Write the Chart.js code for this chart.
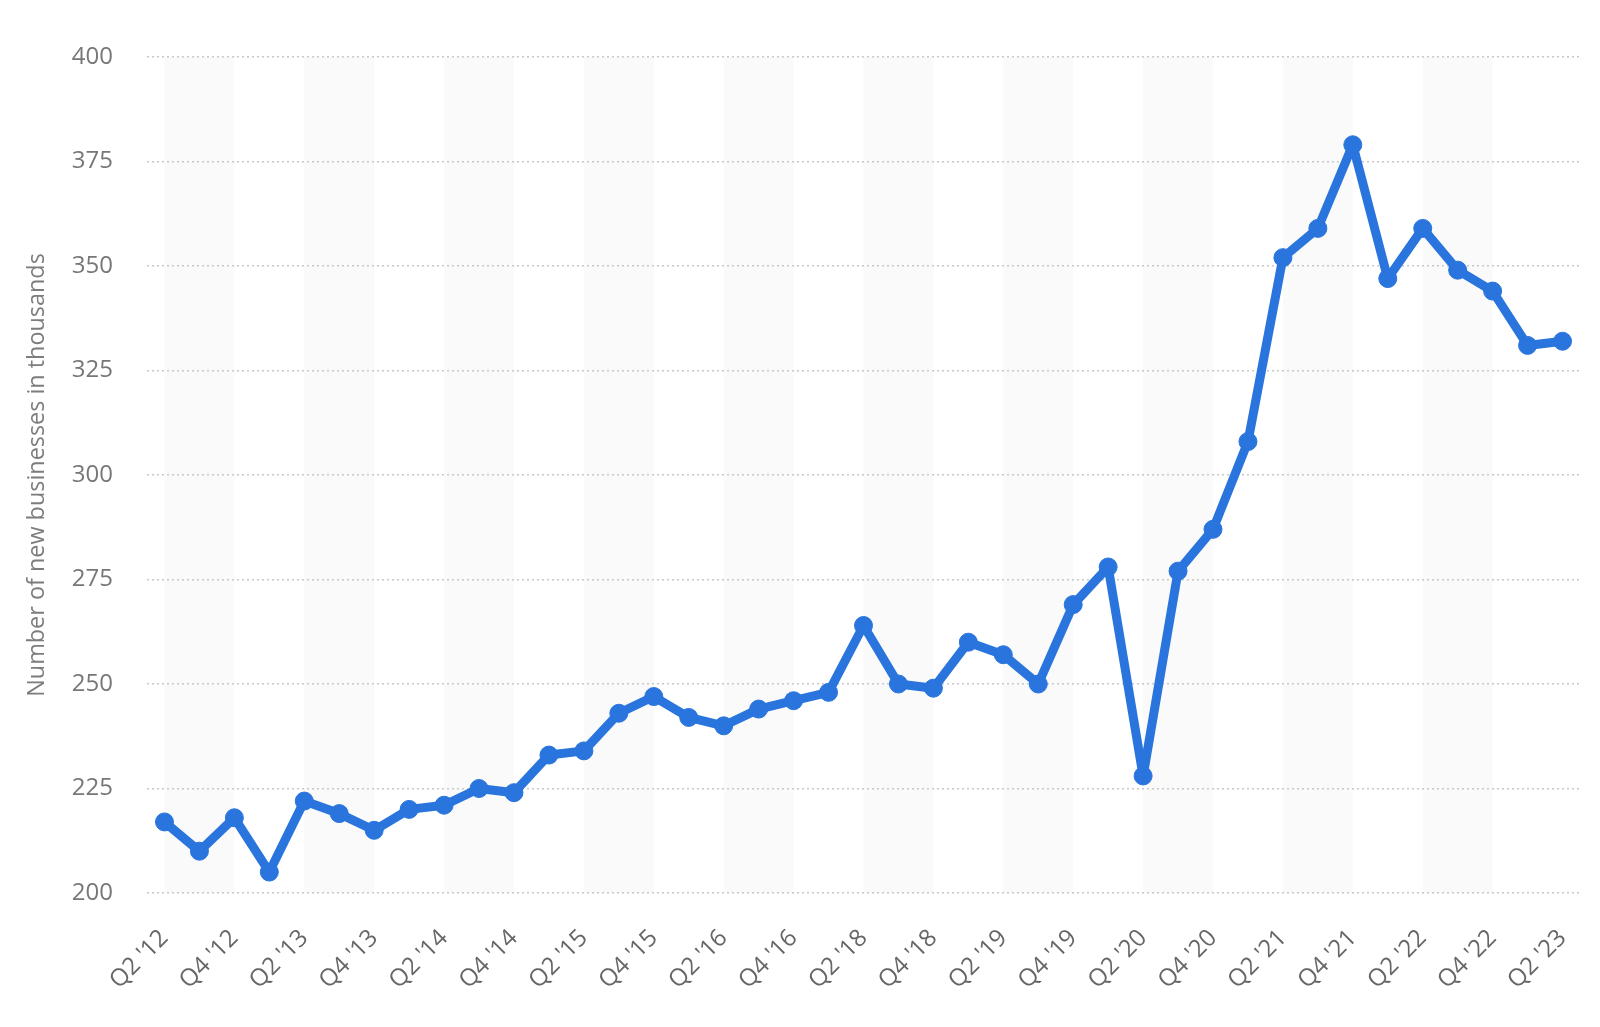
<!DOCTYPE html>
<html>
<head>
<meta charset="utf-8">
<script src="https://cdn.jsdelivr.net/npm/chart.js@4"></script>
<style>
  html, body { margin: 0; padding: 0; background: #ffffff; }
  #wrap { width: 1600px; height: 1027px; position: relative; }
</style>
</head>
<body>
<div id="wrap"><canvas id="c" width="1600" height="1027"></canvas></div>
<script>
const categories = [
  "Q2 '12", "Q3 '12", "Q4 '12", "Q1 '13", "Q2 '13", "Q3 '13", "Q4 '13", "Q1 '14",
  "Q2 '14", "Q3 '14", "Q4 '14", "Q1 '15", "Q2 '15", "Q3 '15", "Q4 '15", "Q1 '16",
  "Q2 '16", "Q3 '16", "Q4 '16", "Q1 '18", "Q2 '18", "Q3 '18", "Q4 '18", "Q1 '19",
  "Q2 '19", "Q3 '19", "Q4 '19", "Q1 '20", "Q2 '20", "Q3 '20", "Q4 '20", "Q1 '21",
  "Q2 '21", "Q3 '21", "Q4 '21", "Q1 '22", "Q2 '22", "Q3 '22", "Q4 '22", "Q1 '23",
  "Q2 '23"
];
const newBusinesses = [
  217, 210, 218, 205, 222, 219, 215, 220,
  221, 225, 224, 233, 234, 243, 247, 242,
  240, 244, 246, 248, 264, 250, 249, 260,
  257, 250, 269, 278, 228, 277, 287, 308,
  352, 359, 379, 347, 359, 349, 344, 331,
  332
];
const yTicks = [200, 225, 250, 275, 300, 325, 350, 375, 400];
const yTitle = "Number of new businesses in thousands";

const bandPlugin = {
  id: 'bands',
  beforeDraw(chart) {
    const { ctx, chartArea, scales } = chart;
    const x = scales.x;
    ctx.save();
    ctx.fillStyle = '#fafafa';
    for (let i = 0; i + 2 < categories.length; i += 4) {
      const x0 = x.getPixelForValue(i);
      const x1 = x.getPixelForValue(i + 2);
      ctx.fillRect(x0, chartArea.top, x1 - x0, chartArea.bottom - chartArea.top);
    }
    ctx.restore();
  }
};

new Chart(document.getElementById('c'), {
  type: 'line',
  data: {
    labels: categories,
    datasets: [{
      data: newBusinesses,
      borderColor: '#2975dd',
      backgroundColor: '#2975dd',
      borderWidth: 9,
      borderJoinStyle: 'round',
      borderCapStyle: 'round',
      pointRadius: 9,
      pointBorderWidth: 1,
      pointBackgroundColor: '#2975dd',
      pointBorderColor: '#2975dd',
      tension: 0,
      fill: false
    }]
  },
  options: {
    responsive: false,
    animation: false,
    devicePixelRatio: 1,
    layout: { padding: { top: 57, right: 20, left: 0, bottom: 0 } },
    plugins: { legend: { display: false }, tooltip: { enabled: false } },
    scales: {
      x: {
        type: 'category',
        offset: true,
        grid: { display: false, drawTicks: false },
        border: { display: false },
        ticks: {
          autoSkip: false,
          maxRotation: 45,
          minRotation: 45,
          padding: 31,
          color: '#666666',
          font: { family: 'Open Sans', size: 24 },
          callback: function (v, i) { return i % 2 === 0 ? categories[i] : ''; }
        },
        afterFit(scale) {
          scale.height = 1027 - 893;
          scale.paddingLeft = 0;
          scale.paddingRight = 0;
        }
      },
      y: {
        min: 200,
        max: 400,
        afterBuildTicks(scale) { scale.ticks = yTicks.map(v => ({ value: v })); },
        grid: {
          color: '#c8c8c8',
          lineWidth: 1.5,
          drawTicks: false
        },
        border: { display: false, dash: [2, 3] },
        ticks: {
          padding: 34,
          color: '#777777',
          font: { family: 'Open Sans', size: 24 }
        },
        title: {
          display: true,
          text: yTitle,
          color: '#7d7d7d',
          font: { family: 'Open Sans', size: 23.4 },
          padding: { top: 23, bottom: 0 }
        },
        afterFit(scale) {
          scale.width = 147;
          scale.paddingTop = 0;
          scale.paddingBottom = 0;
        }
      }
    }
  },
  plugins: [bandPlugin]
});
</script>
</body>
</html>
